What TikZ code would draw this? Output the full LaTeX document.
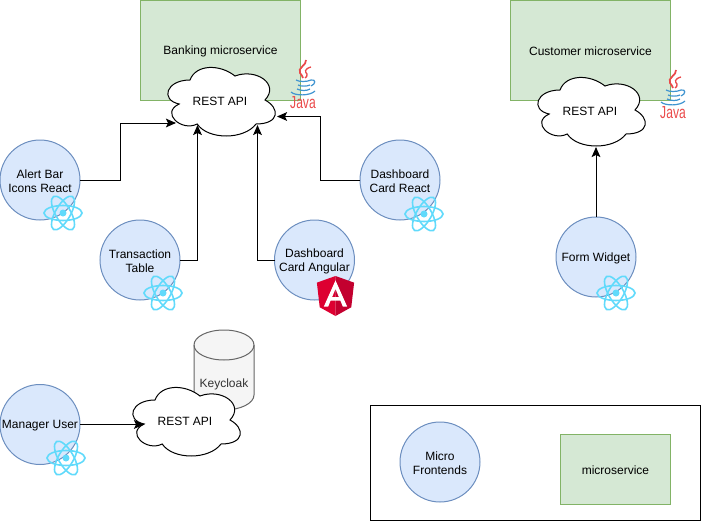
\documentclass[tikz,border=0pt]{standalone}
\usepackage{fontspec}
\setmainfont{Liberation Sans}
\usetikzlibrary{arrows.meta}
\definecolor{bluefill}{HTML}{DAE8FC}
\definecolor{bluedraw}{HTML}{6C8EBF}
\definecolor{greenfill}{HTML}{D5E8D4}
\definecolor{greendraw}{HTML}{82B366}
\definecolor{reactc}{HTML}{61DAFB}
\definecolor{javared}{HTML}{EA4A4A}
\definecolor{javablue}{HTML}{3F94D0}
\definecolor{angA}{HTML}{DD0031}
\definecolor{angB}{HTML}{C3002F}
\definecolor{cylfill}{HTML}{F5F5F5}
\definecolor{cyldraw}{HTML}{666666}
\definecolor{cyltext}{HTML}{333333}
\tikzset{
  lbl/.style={font=\fontsize{9}{10.5}\selectfont, align=center, inner sep=0pt, outer sep=0pt},
  fe/.style={circle, draw=bluedraw, fill=bluefill, line width=.75pt, minimum size=60pt, inner sep=0pt, outer sep=0pt,
     label={[lbl,yshift=-1pt]center:{#1}}},
  svc/.style={rectangle, draw=greendraw, fill=greenfill, line width=.75pt, inner sep=0pt, outer sep=0pt,
     label={[lbl,yshift=-1pt]center:{#1}}},
  cloudline/.style={draw=black, fill=white, line width=.75pt},
  conn/.style={draw=black, line width=.75pt, -{Stealth[length=7.5pt,width=6.5pt,inset=1.5pt]}},
}
\newcommand{\apicloud}[3]{% name, x0, y0 (120x80 px box)
  \begin{scope}[shift={(#2,#3)}]
  \draw[cloudline] (30,20) .. controls (6,20) and (0,40) .. (19.2,44)
    .. controls (0,52.8) and (21.6,72) .. (37.2,64)
    .. controls (48,80) and (84,80) .. (96,64)
    .. controls (120,64) and (120,48) .. (105,40)
    .. controls (120,24) and (96,8) .. (75,16)
    .. controls (60,4) and (36,4) .. (30,20) -- cycle;
  \node[lbl] (#1) at (60,41) {REST API};
  \end{scope}}
\newcommand{\reactlogo}[2]{%
  \begin{scope}[shift={(#1,#2)}, draw=reactc, line width=1.2pt]
  \draw (0,0) ellipse [x radius=19, y radius=7.5];
  \draw[rotate=60] (0,0) ellipse [x radius=19, y radius=7.5];
  \draw[rotate=120] (0,0) ellipse [x radius=19, y radius=7.5];
  \fill[reactc] (0,0) circle [radius=3.5];
  \end{scope}}
\newcommand{\javalogo}[2]{% origin: top left of logo
  \begin{scope}[shift={(#1,#2)}]
  \draw[javared, line width=1.3pt] (16,0) .. controls (17,5) and (7,8) .. (10,13) .. controls (11,15) and (13,16) .. (13,18);
  \draw[javared, line width=1pt] (21,7) .. controls (14,9) and (15,12) .. (17,14) .. controls (18,16) and (16,17) .. (15,18);
  \draw[javablue, line width=.9pt] (6,20) .. controls (9,22) and (17,22) .. (21,20);
  \draw[javablue, line width=.9pt] (8,25) .. controls (11,26.5) and (17,26.5) .. (20,25);
  \draw[javablue, line width=.9pt] (7,29) .. controls (11,31) and (17,31) .. (20,29);
  \draw[javablue, line width=.9pt] (21,20) .. controls (26,19) and (26,24) .. (21,26);
  \draw[javablue, line width=.9pt] (1,32) .. controls (5,36) and (20,36) .. (25,31);
  \node[text=javared, font=\fontsize{13}{13}\selectfont, inner sep=0pt, xscale=.7, transform shape, anchor=center] at (13,43) {Java};
  \end{scope}}
\begin{document}
\begin{tikzpicture}[x=0.75pt,y=-0.75pt]
\useasboundingbox (0,0) rectangle (701,521);
% services
\node[svc={Banking microservice}, minimum width=120pt, minimum height=75pt] (banking) at (220.5,50) {};
\node[svc={Customer microservice}, minimum width=120pt, minimum height=75pt] (customer) at (590.5,50) {};
\javalogo{290}{60}
\javalogo{660}{70}
\apicloud{bankapi}{160}{60}
\apicloud{custapi}{530}{70}
% keycloak
\draw[draw=cyldraw, fill=cylfill, line width=.75pt] (194,345) -- (194,395) arc[start angle=180, end angle=0, x radius=30, y radius=15] -- (254,345) arc[start angle=0, end angle=-180, x radius=30, y radius=15] -- cycle;
\draw[draw=cyldraw, line width=.75pt] (194,345) arc[start angle=180, end angle=0, x radius=30, y radius=15];
\node[lbl, text=cyltext] (keycloak) at (224,384) {Keycloak};
\apicloud{mgrapi}{125}{380}
% front ends
\node[fe={Alert Bar\\Icons React}] (alert) at (40,180) {};
\node[fe={Transaction\\Table}] (tx) at (140,260) {};
\node[fe={Dashboard\\Card Angular}] (angular) at (314.5,260) {};
\node[fe={Dashboard\\Card React}] (dash) at (400,180) {};
\node[fe={Form Widget}] (form) at (596,257) {};
\node[fe={Manager User}] (mgr) at (40,424.5) {};
\reactlogo{63}{213}
\reactlogo{163}{293}
\reactlogo{424}{214}
\reactlogo{616}{293}
\reactlogo{66}{458}
% angular logo
\begin{scope}[shift={(335.5,276)}, scale=.2, shift={(-125,-30)}]
\fill[angA] (125,30) -- (31.9,63.2) -- (46.1,186.3) -- (125,230) -- cycle;
\fill[angB] (125,30) -- (218.1,63.2) -- (203.9,186.3) -- (125,230) -- cycle;
\fill[white, even odd rule] (125,52.1) -- (66.8,182.6) -- (88.5,182.6) -- (100.2,153.4) -- (149.6,153.4) -- (161.3,182.6) -- (183,182.6) -- cycle
  (142,135.4) -- (108,135.4) -- (125,94.5) -- cycle;
\end{scope}
% connectors
\coordinate (elbowa) at (120,123);
\coordinate (tipa) at (176,123);
\coordinate (tipb) at (197.5,125);
\coordinate (tipc) at (257.5,125);
\coordinate (elbowd) at (320.5,116.5);
\coordinate (tipd) at (277,116.5);
\coordinate (tipe) at (596,147);
\coordinate (tipf) at (144,424.5);
\draw[conn] (alert.east) -| (elbowa) -- (tipa);
\draw[conn] (tx.east) -| (tipb);
\draw[conn] (angular.west) -| (tipc);
\draw[conn] (dash.west) -| (elbowd) -- (tipd);
\draw[conn] (form.north) -- (tipe);
\draw[conn] (mgr.east) -- (tipf);
% legend
\node[draw=black, line width=.75pt, minimum width=247.5pt, minimum height=86.25pt, inner sep=0pt] (legend) at (535,462.5) {};
\node[fe={Micro\\Frontends}] (microfe) at (440,462) {};
\node[svc={microservice}, minimum width=82.5pt, minimum height=52.5pt] (microsvc) at (615.5,469) {};
\end{tikzpicture}
\end{document}
